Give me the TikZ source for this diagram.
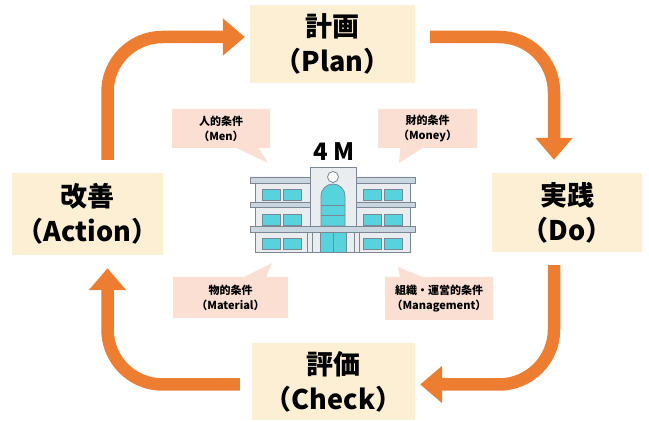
\documentclass[tikz,border=0pt]{standalone}
\usepackage{fontspec}
\setmainfont{Noto Sans CJK JP}
\usetikzlibrary{arrows.meta,shapes.callouts}
\definecolor{pdcaorange}{HTML}{ED7D31}
\definecolor{stepfill}{HTML}{FCEFD4}
\definecolor{mfill}{HTML}{FADFD2}
\definecolor{wall}{HTML}{E9EDF0}
\definecolor{frame}{HTML}{7A8896}
\definecolor{slab}{HTML}{C9D5DF}
\definecolor{glass}{HTML}{58D3DE}

\begin{document}
\begin{tikzpicture}[x=1pt,y=-1pt,
    stepbox/.style={fill=stepfill,align=center,inner sep=0pt,
      font=\fontsize{27}{35}\selectfont\bfseries},
    mbox/.style={rectangle callout,fill=mfill,align=center,inner sep=0pt,
      callout pointer width=22pt,font=\fontsize{11}{15}\selectfont\bfseries},
    flow/.style={draw=pdcaorange,line width=12.5pt,rounded corners=55pt,
      -{Triangle[width=36pt,length=22pt]}}]
  \useasboundingbox (0,0) rectangle (649,422);

  % the four steps
  \node[stepbox,minimum width=165pt,minimum height=78pt] (plan) at (332.5,44) {計画\\（Plan）};
  \node[stepbox,minimum width=150pt,minimum height=79pt] (do) at (567,212.5) {実践\\（Do）};
  \node[stepbox,minimum width=163pt,minimum height=77pt] (check) at (333.5,381.5) {評価\\（Check）};
  \node[stepbox,minimum width=151pt,minimum height=82pt] (action) at (87.5,214) {改善\\（Action）};

  \draw[flow] ([xshift=15,yshift=7]plan.east) -| ([xshift=-13,yshift=13]do.north);
  \draw[flow] ([xshift=-13,yshift=-13]do.south) |- ([xshift=5,yshift=-3]check.east);
  \draw[flow] ([xshift=-12,yshift=-3]check.west) -| ([xshift=20,yshift=-13]action.south);
  \draw[flow] ([xshift=20,yshift=13]action.north) |- ([xshift=-5,yshift=7]plan.west);

  % 4M callouts
  \node[mbox,minimum width=98pt,minimum height=39pt,callout absolute pointer={(268,163)}]
    (men) at (221,128.5) {人的条件\\（Men）};
  \node[mbox,minimum width=99pt,minimum height=39pt,callout absolute pointer={(399,163)}]
    (money) at (427.5,128.5) {財的条件\\（Money）};
  \node[mbox,minimum width=115pt,minimum height=41pt,callout absolute pointer={(272,263)}]
    (material) at (230.5,297.5) {物的条件\\（Material）};
  \node[mbox,minimum width=108pt,minimum height=43pt,callout absolute pointer={(398,267)}]
    (management) at (439,298.5) {組織・運営的条件\\（Management）};

  \node[font=\fontsize{24}{24}\selectfont\bfseries] (fourm) at (334,152) {4 M};

  % building
  \begin{scope}[draw=frame,line width=0.8pt]
    \filldraw[fill=wall] (255,183) rectangle (310,252);
    \filldraw[fill=wall] (356,183) rectangle (410,252);
    \filldraw[fill=wall] (310,167) rectangle (356,252);
    \filldraw[fill=white] (333,177) circle (5.5);
    \filldraw[fill=glass] (321,226) -- (321,196) arc[start angle=180,end angle=360,radius=12] -- (345,226) -- cycle;
    \draw (321,205) -- (345,205) (321,215) -- (345,215);
    \filldraw[fill=slab] (250,177) rectangle (310,183) (356,177) rectangle (415,183);
    \filldraw[fill=slab] (250,202) rectangle (310,207) (356,202) rectangle (415,207);
    \foreach \x in {262,283,363,384}
      \foreach \y in {189,214,238}
        \filldraw[fill=glass] (\x,\y) rectangle ++(18,11);
    \filldraw[fill=slab] (250,226) rectangle (415,232);
    \filldraw[fill=glass] (320,232) rectangle (346,252);
    \draw (333,232) -- (333,252);
    \filldraw[fill=wall] (307,232) rectangle (312,252) (354,232) rectangle (359,252);
  \end{scope}
\end{tikzpicture}
\end{document}
